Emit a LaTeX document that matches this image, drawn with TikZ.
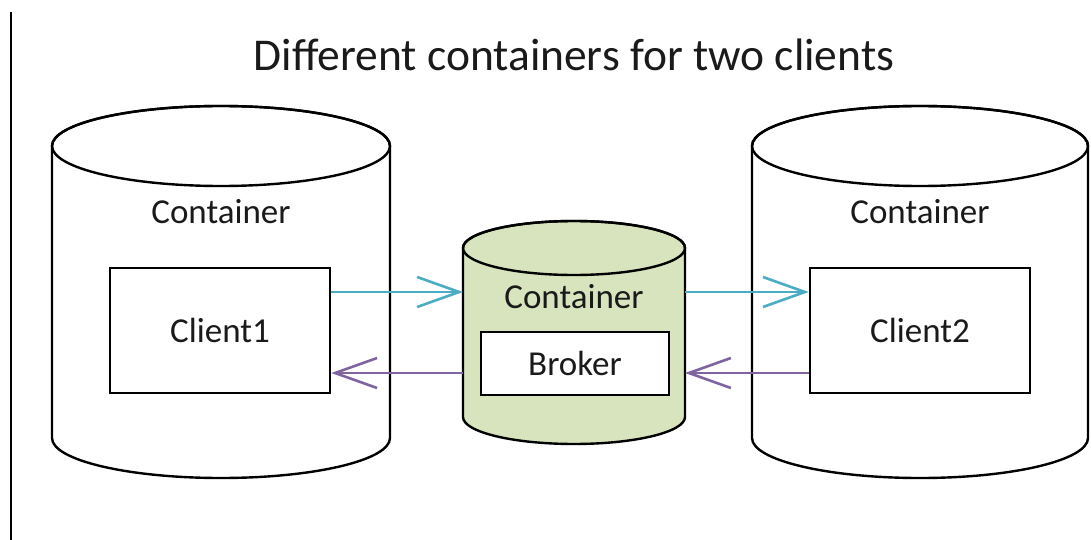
\documentclass[tikz,border=0pt]{standalone}
\usepackage{fontspec}
\setmainfont{Carlito}
\usetikzlibrary{arrows.meta}
\definecolor{teallink}{HTML}{4BACC6}
\definecolor{purplelink}{HTML}{8064A2}
\definecolor{brokergreen}{HTML}{D7E4BD}
\definecolor{txt}{HTML}{1A1A1A}
\tikzset{
  wall/.style={draw=black, line width=2.4pt},
  boxnode/.style={draw=black, line width=2.4pt, fill=white, inner sep=0pt, text=txt, font=\fontsize{35}{41}\selectfont},
  lbl/.style={inner sep=0pt, text=txt, font=\fontsize{35}{41}\selectfont},
  tip/.style={-{Straight Barb[length=42pt,width=30pt,line width=2.6pt]}},
  tealarrow/.style={draw=teallink, line width=2.6pt, tip},
  purplearrow/.style={draw=purplelink, line width=2.6pt, tip},
}
% cylinder: left x, right x, top-centre y, bottom-centre y, radius y, fill
\newcommand{\mycyl}[6]{%
  \pgfmathsetmacro{\rxx}{(#2-#1)/2}%
  \pgfmathsetmacro{\cxx}{(#2+#1)/2}%
  \filldraw[wall, fill=#6] (#1,-#3) -- (#1,-#4)
     arc[start angle=180, end angle=360, x radius=\rxx, y radius=#5]
     -- (#2,-#3)
     arc[start angle=0, end angle=180, x radius=\rxx, y radius=#5] -- cycle;
  \draw[wall] (\cxx,-#3) ellipse[x radius=\rxx, y radius=#5];
}
\begin{document}
\begin{tikzpicture}[x=1pt,y=1pt]
\useasboundingbox (0,0) rectangle (1091,-540);
\fill[white] (0,0) rectangle (1091,-540);

% left frame line
\coordinate (frameTop) at (11,-12);
\coordinate (frameBot) at (11,-540);
\draw[line width=2pt] (frameTop) -- (frameBot);

% title
\node[inner sep=0pt, text=txt, font=\fontsize{45.5}{52}\selectfont] (title) at (574,-55) {Different containers for two clients};

% cylinders
\mycyl{52}{390}{146}{438}{40}{white}
\mycyl{463}{685}{248}{417}{27}{brokergreen}
\mycyl{752}{1088}{146}{438}{40}{white}

% labels
\node[lbl] (cont1) at (221,-212) {Container};
\node[lbl] (cont2) at (574,-297) {Container};
\node[lbl] (cont3) at (920,-212) {Container};

% boxes
\node[boxnode, minimum width=220pt, minimum height=125pt] (client1) at (220,-330.5) {Client1};
\node[boxnode, minimum width=188pt, minimum height=63pt] (broker) at (575,-363.5) {Broker};
\node[boxnode, minimum width=220pt, minimum height=125pt] (client2) at (920,-330.5) {Client2};

% cylinder wall anchor points of the broker container
\coordinate (bLT) at (463,-292);
\coordinate (bLB) at (463,-373);
\coordinate (bRT) at (685,-292);
\coordinate (bRB) at (685,-373);

% connectors
\draw[tealarrow] (client1.east |- bLT) -- (bLT);
\draw[purplearrow] (bLB) -- (client1.east |- bLB);
\draw[tealarrow] (bRT) -- (client2.west |- bRT);
\draw[purplearrow] (client2.west |- bRB) -- (bRB);
\end{tikzpicture}
\end{document}
